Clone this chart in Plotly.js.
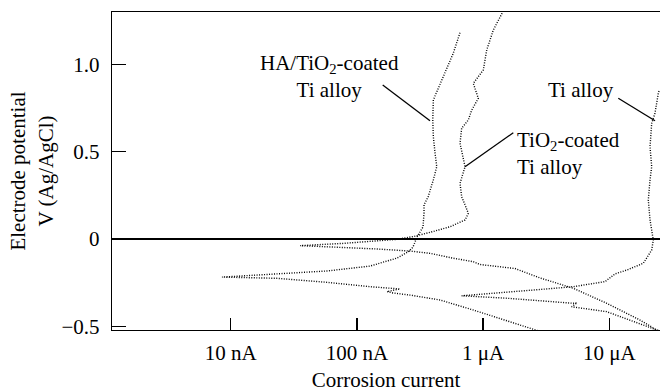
<!DOCTYPE html>
<html>
<head>
<meta charset="utf-8">
<script src="https://cdn.plot.ly/plotly-3.0.1.min.js"></script>
<style>html,body{margin:0;padding:0;background:#fff;}#chart{width:660px;height:392px;}</style>
</head>
<body>
<div id="chart"></div>
<script>
// Corrosion current in nA, electrode potential in V (Ag/AgCl)
const haCurrent = [656, 580, 483, 403, 399, 403, 416, 429, 403, 366, 340, 340, 334, 299, 278, 254, 208, 127, 57.9, 23.2, 8.51,
  23.2, 57.9, 127, 219, 173, 193, 263, 455, 831, 1546, 2674, 3094];
const haPotential = [1.181, 1.063, 0.929, 0.796, 0.681, 0.586, 0.491, 0.414, 0.338, 0.240, 0.195, 0.149, 0.069, 0.011, -0.046, -0.074, -0.109, -0.155, -0.183, -0.200, -0.218,
  -0.225, -0.248, -0.273, -0.286, -0.301, -0.309, -0.321, -0.349, -0.406, -0.468, -0.521, -0.538];

const tio2Current = [1464, 1404, 1204, 1068, 1003, 836, 916, 812, 763, 676, 656, 697, 719, 656, 676, 719, 763, 719, 546, 379, 280, 207, 143, 77.9, 35.4,
  77.9, 143, 263, 379, 580, 836, 945, 1361, 1789, 2824, 5185, 9539, 17520, 23760, 27650];
const tio2Potential = [1.334, 1.288, 1.196, 1.082, 0.967, 0.891, 0.805, 0.738, 0.681, 0.634, 0.548, 0.471, 0.414, 0.319, 0.242, 0.195, 0.147, 0.109, 0.070, 0.038, 0.014, -0.002, -0.011, -0.025, -0.038,
  -0.048, -0.057, -0.069, -0.082, -0.110, -0.130, -0.146, -0.157, -0.169, -0.223, -0.282, -0.368, -0.464, -0.521, -0.544];

const tiCurrent = [24780, 24470, 23030, 21690, 21030, 21690, 21030, 20390, 21030, 22330, 21690, 18610, 14080, 11100, 9250, 5185, 2824, 1538, 676,
  1538, 2824, 5185, 5547, 5036, 9539, 17520, 23760, 27650];
const tiPotential = [0.847, 0.834, 0.720, 0.662, 0.528, 0.414, 0.338, 0.223, 0.109, -0.006, -0.063, -0.139, -0.175, -0.200, -0.244, -0.273, -0.289, -0.303, -0.325,
  -0.339, -0.353, -0.368, -0.365, -0.388, -0.416, -0.483, -0.521, -0.538];

const xTickVals = [1e-8, 1e-7, 1e-6, 1e-5];
const xTickText = ['10 nA', '100 nA', '1 μA', '10 μA'];
const yTickVals = [1.0, 0.5, 0, -0.5];
const yTickText = ['1.0', '0.5', '0', '\u22120.5'];

const toAmp = a => a.map(v => v * 1e-9);
const dotLine = {color: '#000', width: 1.4, dash: '1px,1.5px'};
const mk = (x, y, name) => ({x: toAmp(x), y: y, name: name, type: 'scatter', mode: 'lines', line: dotLine, hoverinfo: 'skip'});

const data = [
  mk(haCurrent, haPotential, 'HA/TiO2-coated Ti alloy'),
  mk(tio2Current, tio2Potential, 'TiO2-coated Ti alloy'),
  mk(tiCurrent, tiPotential, 'Ti alloy')
];

const font = {family: 'Liberation Serif, DejaVu Serif, serif', size: 21, color: '#000'};
const ln = (x0, y0, x1, y1) => ({type: 'line', xref: 'paper', yref: 'paper', x0, y0, x1, y1, line: {color: '#000', width: 1.3}});

const layout = {
  width: 660, height: 392,
  margin: {l: 112, r: 0, t: 12, b: 62},
  paper_bgcolor: '#fff', plot_bgcolor: '#fff',
  showlegend: false,
  font: font,
  xaxis: {
    type: 'log', range: [-8.94166, -4.59797],
    showline: true, linecolor: '#000', linewidth: 1.3, mirror: true,
    ticks: 'inside', ticklen: 12, tickwidth: 1.3, tickcolor: '#000',
    tickvals: xTickVals, ticktext: xTickText, tickfont: font,
    showgrid: false, zeroline: false,
    ticklabelstandoff: 3,
    title: {text: 'Corrosion current', font: font, standoff: 16},
    automargin: false
  },
  yaxis: {
    range: [-0.52089, 1.29937],
    showline: true, linecolor: '#000', linewidth: 1.3,
    ticks: 'inside', ticklen: 14, tickwidth: 1.3, tickcolor: '#000',
    tickvals: yTickVals, ticktext: yTickText, tickfont: font,
    showgrid: false,
    zeroline: true, zerolinecolor: '#000', zerolinewidth: 1.3,
    ticklabelstandoff: 7,
    title: {text: 'Electrode potential<br>V (Ag/AgCl)', font: font, standoff: 2},
    automargin: false
  },
  annotations: [
    {xref: 'paper', yref: 'paper', x: 0.3978, y: 0.7987, xanchor: 'center', yanchor: 'middle', align: 'center', showarrow: false,
     text: 'HA/TiO<sub>2</sub>-coated<br>Ti alloy', font: font},
    {xref: 'paper', yref: 'paper', x: 0.7354, y: 0.5566, xanchor: 'left', yanchor: 'middle', align: 'left', showarrow: false,
     text: 'TiO<sub>2</sub>-coated<br>Ti alloy', font: font},
    {xref: 'paper', yref: 'paper', x: 0.8558, y: 0.7547, xanchor: 'center', yanchor: 'middle', align: 'center', showarrow: false,
     text: 'Ti alloy', font: font}
  ],
  shapes: [
    ln(0.4940, 0.7704, 0.5803, 0.6582),
    ln(0.7323, 0.6204, 0.6442, 0.5135),
    ln(0.9239, 0.7286, 0.9909, 0.6582)
  ]
};

Plotly.newPlot('chart', data, layout, {staticPlot: true, displayModeBar: false});
</script>
</body>
</html>
